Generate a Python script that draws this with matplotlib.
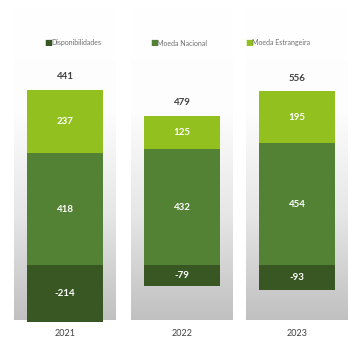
import numpy as np
import matplotlib
matplotlib.use("Agg")
import matplotlib.pyplot as plt
from matplotlib.colors import LinearSegmentedColormap

plt.rcParams['font.family'] = ['Lato', 'DejaVu Sans']

years = ['2021', '2022', '2023']
disponibilidades = [-214, -79, -93]
moeda_nacional = [418, 432, 454]
moeda_estrangeira = [237, 125, 195]
totais = [441, 479, 556]
series_names = ['Disponibilidades', 'Moeda Nacional', 'Moeda Estrangeira']

c_dark = '#385723'
c_mid = '#548235'
c_light = '#92c01f'
colors = [c_dark, c_mid, c_light]

W, H = 355, 340
fig = plt.figure(figsize=(W / 100, H / 100), dpi=100)
fig.patch.set_facecolor('white')

ymin, ymax = -205, 963
grad = LinearSegmentedColormap.from_list('bg', ['#c0c0c0', '#e6e6e6', '#fdfdfd', '#ffffff'])
panel_lefts = [14, 131, 246]
panel_w = 102

for i, year in enumerate(years):
    ax = fig.add_axes([panel_lefts[i] / W, 20 / H, panel_w / W, 313 / H])
    ax.set_xlim(0, 1)
    ax.set_ylim(ymin, ymax)
    ax.axis('off')
    g = np.linspace(0, 1, 256).reshape(-1, 1)
    ax.imshow(g, extent=[0, 1, ymin, ymax], origin='lower', aspect='auto',
              cmap=grad, zorder=0)

    d, n, e = disponibilidades[i], moeda_nacional[i], moeda_estrangeira[i]
    ax.bar(0.5, d, width=0.75, color=c_dark, zorder=2, clip_on=False)
    ax.bar(0.5, n, width=0.75, color=c_mid, zorder=2)
    ax.bar(0.5, e, bottom=n, width=0.75, color=c_light, zorder=2)

    for val, yc in [(d, d / 2), (n, n / 2), (e, n + e / 2)]:
        ax.text(0.5, yc, f'{val}', ha='center', va='center', color='white',
                fontsize=7, fontweight='bold', zorder=3)

    ax.annotate(f'{totais[i]}', xy=(0.5, n + e), xytext=(0, 6),
                textcoords='offset points', ha='center', va='bottom',
                color='#404040', fontsize=7, fontweight='bold')

    fig.text((panel_lefts[i] + panel_w / 2) / W, 2 / H, year, ha='center',
             va='bottom', color='#404040', fontsize=6.5)

# legend entries across the top
legend_x = [44, 150, 245]
for name, col, lx in zip(series_names, colors, legend_x):
    fig.text(lx / W, 1 - 43 / H, '■', color=col, fontsize=6,
             ha='left', va='center', family='DejaVu Sans')
    fig.text((lx + 7) / W, 1 - 43 / H, name, color='#6f6f6f', fontsize=5,
             ha='left', va='center')

fig.savefig('out.png', dpi=100)
